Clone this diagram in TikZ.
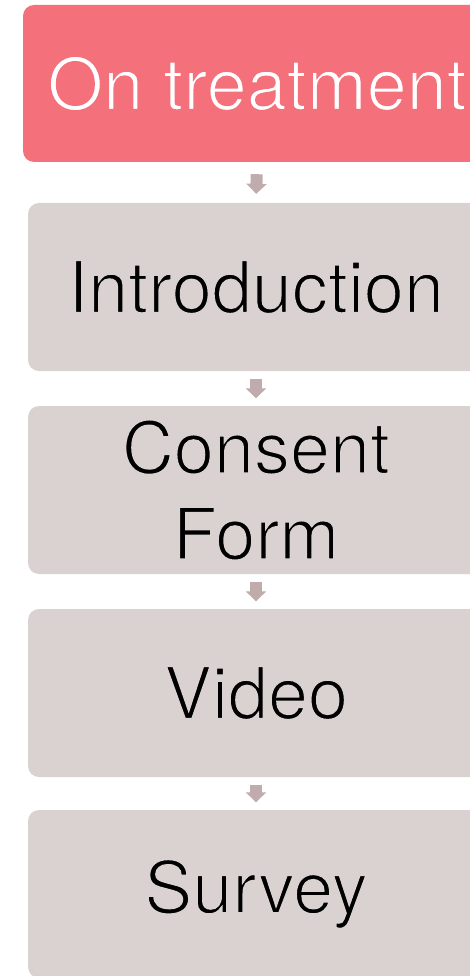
\documentclass[tikz,border=0pt]{standalone}
\usepackage{fontspec}
\setmainfont{TeX Gyre Heros}
\usetikzlibrary{arrows.meta}
\definecolor{startred}{HTML}{F4717B}
\definecolor{stepgrey}{HTML}{D9D2D1}
\definecolor{flowarrow}{HTML}{C0ABAD}
% Set text in a lighter weight: each glyph is filled, then its outline is
% stroked in the box colour, which trims the strokes of the letters.
\newcommand{\lighttext}[2]{%
  \special{pdf:literal direct 2 Tr 1.8 w #1 RG}#2\special{pdf:literal direct 0 Tr 0.4 w}}
\newcommand{\ongrey}[1]{\lighttext{0.851 0.824 0.820}{#1}}
\newcommand{\onred}[1]{\lighttext{0.957 0.443 0.482}{#1}}
\tikzset{
  stage/.style={rectangle, rounded corners=11pt, inner sep=0pt, align=center,
    font=\fontsize{72}{86}\selectfont},
  startbox/.style={stage, fill=startred, text=white, minimum width=468pt, minimum height=157pt},
  stepbox/.style={stage, fill=stepgrey, text=black, minimum width=456pt, minimum height=168pt},
  flow/.style={draw=flowarrow, line width=12pt,
    -{Triangle[width=20pt,length=10pt]}, shorten <=7.5pt, shorten >=7.5pt}
}
\begin{document}
\begin{tikzpicture}[x=1pt, y=-1pt]
  \useasboundingbox (0,0) rectangle (470,976);
  \clip (0,0) rectangle (470,976);
  \node[startbox] (start) at (257,83.5) {\onred{On treatment}};
  \node[stepbox] (intro) at (256,287) {\ongrey{Introduction}};
  \node[stepbox] (consent) at (256,490) {\ongrey{Consent}\\\ongrey{Form}};
  \node[stepbox] (video) at (256,693) {\ongrey{Video}};
  \node[stepbox] (survey) at (256,894) {\ongrey{Survey}};
  \draw[flow, shorten <=12pt, shorten >=9pt] (start.south) -- (intro.north);
  \draw[flow] (intro.south) -- (consent.north);
  \draw[flow] (consent.south) -- (video.north);
  \draw[flow] (video.south) -- (survey.north);
\end{tikzpicture}
\end{document}
